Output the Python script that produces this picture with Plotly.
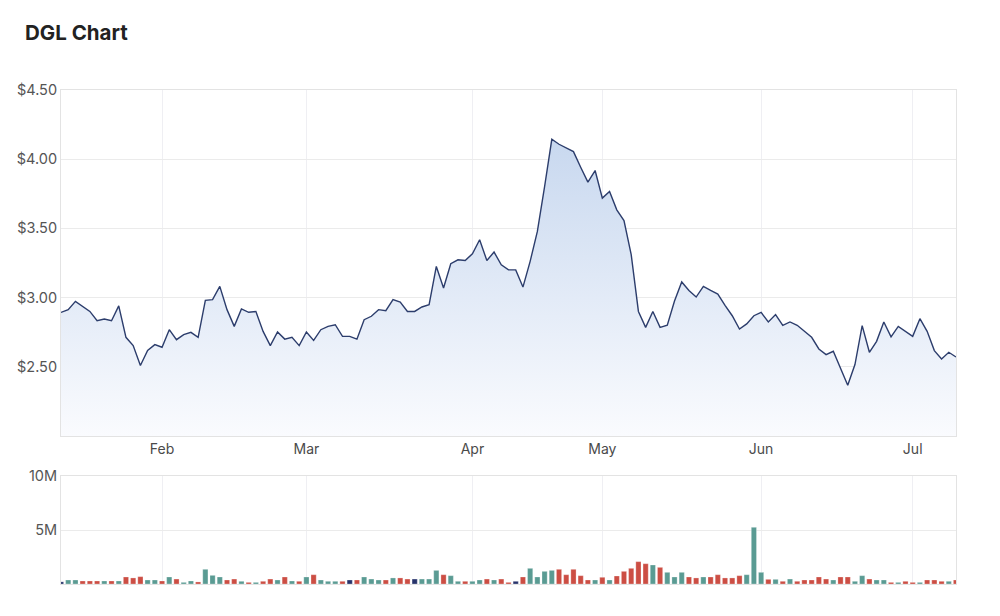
import pandas as pd
import plotly.graph_objects as go

# ---- data -------------------------------------------------------------
holidays = ["2022-01-26", "2022-04-15", "2022-04-18", "2022-04-25", "2022-06-13"]
dates = [d.strftime("%Y-%m-%d") for d in
         pd.bdate_range("2022-01-11", "2022-07-11", freq="C", holidays=holidays)]

close = [
    2.893, 2.913, 2.973, 2.937, 2.900, 2.833, 2.845, 2.833, 2.940, 2.713,
    2.653, 2.509, 2.619, 2.660, 2.641, 2.768, 2.696, 2.732, 2.749, 2.713,
    2.980, 2.985, 3.081, 2.913, 2.792, 2.918, 2.894, 2.900, 2.756, 2.653,
    2.752, 2.700, 2.713, 2.653, 2.752, 2.691, 2.768, 2.792, 2.804, 2.720,
    2.720, 2.700, 2.840, 2.865, 2.913, 2.905, 2.985, 2.968, 2.900, 2.900,
    2.932, 2.949, 3.225, 3.069, 3.245, 3.273, 3.268, 3.317, 3.418, 3.268,
    3.329, 3.237, 3.200, 3.200, 3.076, 3.262, 3.478, 3.802, 4.144, 4.108,
    4.084, 4.055, 3.942, 3.834, 3.918, 3.719, 3.767, 3.634, 3.557, 3.310,
    2.900, 2.785, 2.900, 2.785, 2.800, 2.975, 3.113, 3.052, 3.004, 3.081,
    3.052, 3.026, 2.944, 2.869, 2.773, 2.810, 2.869, 2.893, 2.824, 2.877,
    2.800, 2.824, 2.800, 2.756, 2.713, 2.629, 2.588, 2.612, 2.492, 2.367,
    2.516, 2.797, 2.605, 2.684, 2.824, 2.716, 2.792, 2.756, 2.720, 2.848,
    2.756, 2.617, 2.557, 2.605, 2.571,
]

volume = [
    0.20, 0.37, 0.37, 0.28, 0.28, 0.28, 0.28, 0.28, 0.28, 0.65,
    0.56, 0.68, 0.37, 0.37, 0.28, 0.65, 0.46, 0.15, 0.28, 0.19,
    1.36, 0.80, 0.65, 0.37, 0.46, 0.25, 0.15, 0.15, 0.25, 0.46,
    0.37, 0.65, 0.28, 0.25, 0.65, 0.86, 0.37, 0.25, 0.25, 0.25,
    0.37, 0.37, 0.65, 0.46, 0.37, 0.37, 0.56, 0.56, 0.46, 0.46,
    0.46, 0.46, 1.26, 0.86, 0.77, 0.25, 0.25, 0.25, 0.37, 0.46,
    0.37, 0.46, 0.15, 0.25, 0.65, 1.45, 0.65, 1.17, 1.26, 1.36,
    0.86, 1.36, 0.77, 0.37, 0.37, 0.62, 0.37, 0.74, 1.17, 1.45,
    2.07, 1.88, 1.76, 1.54, 1.08, 0.65, 1.08, 0.65, 0.56, 0.65,
    0.65, 0.86, 0.56, 0.56, 0.77, 0.86, 5.25, 1.08, 0.43, 0.43,
    0.25, 0.46, 0.25, 0.37, 0.37, 0.65, 0.46, 0.37, 0.65, 0.65,
    0.25, 0.77, 0.46, 0.37, 0.37, 0.15, 0.15, 0.25, 0.15, 0.15,
    0.37, 0.37, 0.25, 0.25, 0.37,
]
volume = [v * 1e6 for v in volume]

price_ticks = [2.5, 3.0, 3.5, 4.0, 4.5]
volume_ticks = [5e6, 1e7]
volume_ticktext = ["5M", "10M"]
month_labels = ["Feb", "Mar", "Apr", "May", "Jun", "Jul"]

assert len(dates) == len(close) == len(volume)

# ---- styles -------------------------------------------------------------
UP, DOWN, FLAT = "#5a9b93", "#cc4e44", "#27336b"
bar_colors = [FLAT]
for i in range(1, len(close)):
    if close[i] > close[i - 1]:
        bar_colors.append(UP)
    elif close[i] < close[i - 1]:
        bar_colors.append(DOWN)
    else:
        bar_colors.append(FLAT)

# first trading day of each labelled month
month_ticks = []
for lab in month_labels:
    for d in dates:
        if pd.Timestamp(d).strftime("%b") == lab:
            month_ticks.append(d)
            break

FONT = "Inter, Roboto, Arial, sans-serif"
GRID = "#ebebeb"
VGRID = "#efeff3"
AXLINE = "#e3e3e3"

fig = go.Figure()
fig.add_trace(go.Scatter(
    x=dates, y=close, mode="lines",
    line=dict(color="#2c3d6c", width=1.4),
    fill="tozeroy",
    fillgradient=dict(
        type="vertical", start=2.0, stop=4.15,
        colorscale=[[0, "rgba(250,251,254,1)"], [1, "rgba(200,216,239,1)"]],
    ),
    xaxis="x", yaxis="y", hoverinfo="x+y",
))
fig.add_trace(go.Bar(
    x=dates, y=volume, marker=dict(color=bar_colors,
                                   line=dict(color="rgba(255,255,255,0.45)", width=0.6)),
    xaxis="x2", yaxis="y2", width=0.72,
))

n = len(dates)
common_x = dict(
    type="category", range=[0, n - 1], tickvals=month_ticks, ticktext=month_labels,
    showgrid=True, gridcolor=VGRID, gridwidth=1, showline=True, mirror=True,
    linecolor=AXLINE, linewidth=1, zeroline=False, ticks="",
    tickfont=dict(family=FONT, size=14, color="#4a4a4a"),
)

fig.update_layout(
    width=1000, height=616,
    margin=dict(l=61, r=44, t=90, b=32),
    paper_bgcolor="white", plot_bgcolor="white",
    showlegend=False,
    title=dict(text="<b>DGL Chart</b>", x=0.025, xanchor="left", xref="container",
               y=1 - 33 / 616, yanchor="middle", yref="container",
               font=dict(family=FONT, size=20.5, color="#222222")),
    xaxis=dict(common_x, anchor="y", showticklabels=True),
    xaxis2=dict(common_x, anchor="y2", showticklabels=False, matches="x"),
    yaxis=dict(
        domain=[0.2996, 1.0], range=[2.0, 4.5], tickvals=price_ticks,
        ticktext=[f"${v:.2f}" for v in price_ticks],
        showgrid=True, gridcolor=GRID, showline=True, mirror=True,
        linecolor=AXLINE, zeroline=False, ticks="",
        tickfont=dict(family=FONT, size=14.5, color="#555555"),
    ),
    yaxis2=dict(
        domain=[0.0, 0.2186], range=[0, 1e7], tickvals=volume_ticks,
        ticktext=volume_ticktext,
        showgrid=True, gridcolor=GRID, showline=True, mirror=True,
        linecolor=AXLINE, zeroline=False, ticks="",
        tickfont=dict(family=FONT, size=14.5, color="#555555"),
    ),
    bargap=0.28,
)

fig.write_html("out.html")
